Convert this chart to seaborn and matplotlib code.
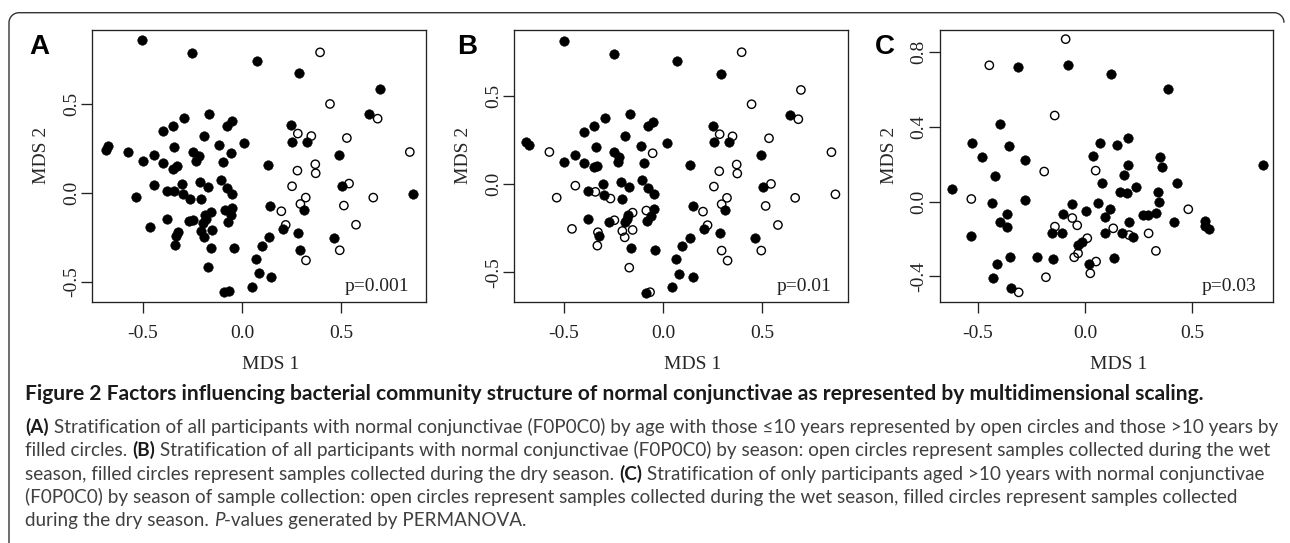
import numpy as np
import pandas as pd
import matplotlib
matplotlib.use("Agg")
import matplotlib.pyplot as plt
import seaborn as sns
from matplotlib.path import Path
from matplotlib.patches import PathPatch
from matplotlib.transforms import IdentityTransform

# ---- data (MDS coordinates) ----
# A: age, open = <=10 years, filled = >10 years
a_filled_x = [-0.505, -0.252, 0.073, 0.287, 0.696, 0.641, -0.168, -0.292, -0.346, -0.396,
              -0.051, -0.078, -0.192, -0.341, -0.115, 0.011, 0.247, 0.250, 0.326, -0.686,
              -0.673, -0.574, -0.500, -0.443, -0.398, -0.249, -0.215, -0.232, -0.098, -0.053,
              -0.346, -0.329, 0.131, 0.488, -0.443, -0.535, -0.379, -0.341, -0.304, -0.297,
              -0.264, -0.212, -0.209, -0.172, -0.105, -0.078, -0.048, 0.143, 0.314, 0.502,
              0.862, -0.379, -0.463, -0.265, -0.249, -0.188, -0.158, -0.182, -0.199, -0.086,
              -0.058, -0.048, -0.071, -0.321, -0.332, -0.338, -0.205, -0.192, -0.152, -0.158,
              -0.039, -0.172, 0.135, 0.100, 0.205, 0.284, 0.291, 0.461, 0.068, 0.085,
              0.147, 0.048, -0.091, -0.064]
a_filled_y = [0.861, 0.789, 0.746, 0.679, 0.586, 0.445, 0.445, 0.423, 0.380, 0.348,
              0.404, 0.380, 0.321, 0.261, 0.269, 0.282, 0.382, 0.288, 0.288, 0.241,
              0.267, 0.233, 0.179, 0.216, 0.171, 0.233, 0.207, 0.179, 0.173, 0.226,
              0.137, 0.150, 0.160, 0.214, 0.043, -0.024, 0.013, 0.009, 0.053, -0.008,
              -0.032, 0.064, -0.034, 0.034, 0.075, 0.030, -0.006, -0.073, -0.094, 0.038,
              -0.004, -0.145, -0.194, -0.160, -0.150, -0.122, -0.109, -0.147, -0.169, -0.098,
              -0.122, -0.085, -0.162, -0.220, -0.241, -0.295, -0.216, -0.248, -0.207, -0.308,
              -0.310, -0.415, -0.250, -0.297, -0.201, -0.226, -0.321, -0.252, -0.372, -0.451,
              -0.472, -0.530, -0.556, -0.553]
a_open_x = [0.393, 0.443, 0.683, 0.281, 0.349, 0.528, 0.845, 0.369, 0.371, 0.279,
            0.252, 0.539, 0.321, 0.294, 0.661, 0.513, 0.198, 0.220, 0.574, 0.492, 0.322]
a_open_y = [0.793, 0.502, 0.419, 0.335, 0.321, 0.310, 0.231, 0.162, 0.111, 0.126,
            0.038, 0.053, -0.026, -0.062, -0.026, -0.071, -0.103, -0.180, -0.179, -0.323, -0.380]

# B: season, open = wet, filled = dry
b_filled_x = [-0.500, -0.250, 0.071, 0.293, 0.641, -0.169, -0.292, -0.347, -0.397, -0.050,
              -0.075, -0.191, -0.340, -0.113, 0.019, 0.251, 0.255, 0.330, -0.692, -0.675,
              -0.502, -0.443, -0.397, -0.248, -0.221, -0.229, -0.098, -0.349, -0.335, 0.137,
              0.492, -0.379, -0.303, -0.300, -0.211, -0.209, -0.171, -0.105, -0.075, -0.048,
              0.149, 0.313, 0.503, -0.381, -0.273, -0.191, -0.184, -0.176, -0.082, -0.063,
              -0.048, -0.325, -0.162, -0.039, 0.065, 0.097, 0.137, 0.206, 0.288, 0.463,
              0.078, 0.152, 0.043, -0.088]
b_filled_y = [0.814, 0.740, 0.700, 0.627, 0.390, 0.396, 0.373, 0.330, 0.298, 0.354,
              0.330, 0.271, 0.211, 0.218, 0.235, 0.332, 0.237, 0.237, 0.237, 0.220,
              0.128, 0.165, 0.120, 0.182, 0.156, 0.128, 0.122, 0.095, 0.103, 0.109,
              0.164, -0.039, 0.001, -0.060, 0.014, -0.084, -0.018, 0.024, -0.022, -0.058,
              -0.122, -0.148, -0.014, -0.198, -0.215, -0.216, -0.196, -0.175, -0.209, -0.181,
              -0.139, -0.294, -0.364, -0.371, -0.426, -0.353, -0.303, -0.254, -0.279, -0.305,
              -0.511, -0.526, -0.585, -0.615]
b_open_x = [0.396, 0.695, 0.446, 0.682, 0.285, 0.350, 0.534, 0.849, -0.574, -0.053,
            0.371, 0.374, 0.283, 0.256, 0.544, -0.443, -0.537, -0.342, -0.266, 0.322,
            0.295, 0.666, 0.517, 0.201, 0.224, 0.579, 0.869, -0.460, -0.329, -0.332,
            -0.246, -0.206, -0.154, -0.194, -0.085, -0.154, 0.495, 0.295, 0.325, -0.171,
            -0.066]
b_open_y = [0.748, 0.534, 0.453, 0.368, 0.283, 0.271, 0.260, 0.181, 0.182, 0.175,
            0.111, 0.060, 0.073, -0.014, 0.001, -0.009, -0.077, -0.044, -0.082, -0.078,
            -0.114, -0.078, -0.124, -0.156, -0.233, -0.232, -0.058, -0.254, -0.273, -0.349,
            -0.205, -0.266, -0.260, -0.302, -0.150, -0.162, -0.377, -0.377, -0.434, -0.474,
            -0.613]

# C: >10 years only, open = wet, filled = dry
c_filled_x = [-0.312, -0.079, 0.121, 0.385, 0.831, -0.530, -0.480, -0.396, -0.357, -0.279,
              -0.421, -0.621, -0.435, -0.279, -0.363, -0.399, -0.363, -0.534, -0.413, -0.349,
              -0.432, -0.348, -0.223, -0.152, -0.155, -0.107, -0.105, -0.060, 0.002, -0.032,
              -0.013, 0.019, 0.038, 0.069, 0.079, 0.061, 0.093, 0.093, 0.117, 0.136,
              0.150, 0.198, 0.198, 0.180, 0.161, 0.197, 0.236, 0.206, 0.173, 0.225,
              0.349, 0.357, 0.341, 0.346, 0.330, 0.271, 0.295, 0.416, 0.428, 0.561,
              0.579, 0.559]
c_filled_y = [0.723, 0.730, 0.684, 0.604, 0.198, 0.316, 0.239, 0.418, 0.298, 0.223,
              0.139, 0.070, -0.005, 0.007, -0.068, -0.107, -0.134, -0.182, -0.332, -0.295,
              -0.409, -0.461, -0.296, -0.307, -0.170, -0.170, -0.068, -0.011, -0.048, -0.232,
              -0.216, -0.334, 0.245, 0.316, 0.100, -0.007, -0.084, -0.170, -0.038, -0.304,
              0.302, 0.339, 0.196, 0.143, 0.052, 0.048, 0.077, -0.109, -0.170, -0.188,
              0.239, 0.188, 0.052, 0.000, -0.059, -0.073, -0.071, -0.107, 0.098, -0.102,
              -0.145, -0.130]
c_open_x = [-0.091, -0.447, -0.142, -0.191, 0.049, -0.531, 0.481, -0.141, -0.060, -0.037,
            0.010, -0.051, -0.033, 0.051, 0.024, 0.131, 0.205, 0.296, 0.330, -0.183, -0.310]
c_open_y = [0.870, 0.730, 0.461, 0.161, 0.166, 0.014, -0.041, -0.134, -0.088, -0.127,
            -0.196, -0.298, -0.277, -0.321, -0.384, -0.143, -0.179, -0.170, -0.264, -0.405,
            -0.486]

panels = [
    ("A", a_filled_x, a_filled_y, a_open_x, a_open_y, "p=0.001",
     (-0.754, 0.925), (-0.613, 0.919), [-0.5, 0.0, 0.5]),
    ("B", b_filled_x, b_filled_y, b_open_x, b_open_y, "p=0.01",
     (-0.751, 0.931), (-0.667, 0.874), [-0.5, 0.0, 0.5]),
    ("C", c_filled_x, c_filled_y, c_open_x, c_open_y, "p=0.03",
     (-0.677, 0.878), (-0.536, 0.919), [-0.4, 0.0, 0.4, 0.8]),
]

caption_title = ("Figure 2 Factors influencing bacterial community structure of normal "
                 "conjunctivae as represented by multidimensional scaling.")
caption_lines = [
    [("(A)", "b"), (" Stratification of all participants with normal conjunctivae (F0P0C0) by age "
                    "with those \u226410 years represented by open circles and those >10 years by", "n")],
    [("filled circles. ", "n"), ("(B)", "b"),
     (" Stratification of all participants with normal conjunctivae (F0P0C0) by season: open "
      "circles represent samples collected during the wet", "n")],
    [("season, filled circles represent samples collected during the dry season. ", "n"), ("(C)", "b"),
     (" Stratification of only participants aged >10 years with normal conjunctivae", "n")],
    [("(F0P0C0) by season of sample collection: open circles represent samples collected during "
      "the wet season, filled circles represent samples collected", "n")],
    [("during the dry season. ", "n"), ("P", "i"), ("-values generated by PERMANOVA.", "n")],
]

# ---- style ----
sns.set_style("ticks")
plt.rcParams.update({
    "font.family": ["Liberation Serif", "DejaVu Serif"],
    "axes.unicode_minus": False,
    "axes.linewidth": 0.95,
    "axes.edgecolor": "#222222",
    "xtick.color": "#222222",
    "ytick.color": "#222222",
    "text.color": "#222222",
})

W, H = 1290, 543
fig = plt.figure(figsize=(W / 100, H / 100), dpi=100)

lefts = [92.3, 514.3, 940.0]
letter_x = [29, 457, 875]
for (name, fx, fy, ox, oy, ptxt, xl, yl, yt), lx, ltx in zip(panels, lefts, letter_x):
    ax = fig.add_axes([lx / W, 1 - 301.7 / H, 333.4 / W, 271.7 / H])
    df_f = pd.DataFrame({"mds1": fx, "mds2": fy})
    df_o = pd.DataFrame({"mds1": ox, "mds2": oy})
    sns.scatterplot(data=df_f, x="mds1", y="mds2", ax=ax, s=48, color="black",
                    edgecolor="black", linewidth=0.3, zorder=3)
    sns.scatterplot(data=df_o, x="mds1", y="mds2", ax=ax, s=36, facecolor="none",
                    edgecolor="black", linewidth=1.0, zorder=3)
    ax.set_xlim(*xl)
    ax.set_ylim(*yl)
    ax.set_xticks([-0.5, 0.0, 0.5])
    ax.set_xticklabels(["-0.5", "0.0", "0.5"])
    ax.set_yticks(yt)
    ax.set_yticklabels([f"{v:.1f}" for v in yt], rotation=90, va="center")
    ax.tick_params(axis="both", length=7.9, width=0.95, labelsize=14)
    ax.tick_params(axis="x", pad=9)
    ax.tick_params(axis="y", pad=1)
    for sp in ax.spines.values():
        sp.set_visible(True)
    ax.set_xlabel("MDS 1", fontsize=14)
    ax.set_ylabel("MDS 2", fontsize=14)
    ax.xaxis.set_label_coords(0.535, -0.2)
    ax.yaxis.set_label_coords(-0.126, 0.54)
    ax.text(0.95, 0.04, ptxt, transform=ax.transAxes, ha="right", va="baseline", fontsize=14)
    fig.text(ltx / W, 1 - 53.5 / H, name, fontsize=20, fontweight="bold",
             family=["Liberation Sans", "DejaVu Sans"], color="black", va="baseline")

# ---- caption ----
cap_font = ["Lato", "DejaVu Sans"]
styles = {"n": dict(color="#404040"), "b": dict(color="#1a1a1a", fontweight="bold"),
          "i": dict(color="#404040", fontstyle="italic")}
renderer = fig.canvas.get_renderer()


def advance(s, size, st):
    # width of a piece of text, spaces included
    t1 = fig.text(0, 0, "|" + s + "|", fontsize=size, family=cap_font, **styles[st])
    t2 = fig.text(0, 0, "||", fontsize=size, family=cap_font, **styles[st])
    w = t1.get_window_extent(renderer).width - t2.get_window_extent(renderer).width
    t1.remove()
    t2.remove()
    return w


def draw_line(segs, x0, ybase, size):
    x = x0
    for s, st in segs:
        fig.text(x / W, 1 - ybase / H, s, fontsize=size, family=cap_font,
                 ha="left", va="baseline", **styles[st])
        x += advance(s, size, st)


# fit the caption to the widths seen in the figure
title_size = 10 * 1182 / advance(caption_title, 10, "b")
body_size = 10 * 1251 / sum(advance(s, 10, st) for s, st in caption_lines[0])

draw_line([(caption_title, "b")], 25, 400, title_size)
for i, segs in enumerate(caption_lines):
    draw_line(segs, 25, 433 + 23.3 * i, body_size)

# rounded frame, top and left sides
r = 10
top = H - 12.7
t1 = np.linspace(np.pi, np.pi / 2, 12)
t2 = np.linspace(np.pi / 2, 0, 12)
verts = [(9, -5), (9, top - r)]
verts += [(9 + r + r * np.cos(t), top - r + r * np.sin(t)) for t in t1]
verts += [(1284 - r + r * np.cos(t), top - r + r * np.sin(t)) for t in t2]
frame = PathPatch(Path(verts), fill=False, lw=1.0, edgecolor="#333333",
                  transform=IdentityTransform())
fig.add_artist(frame)

fig.savefig("out.png", dpi=100)
